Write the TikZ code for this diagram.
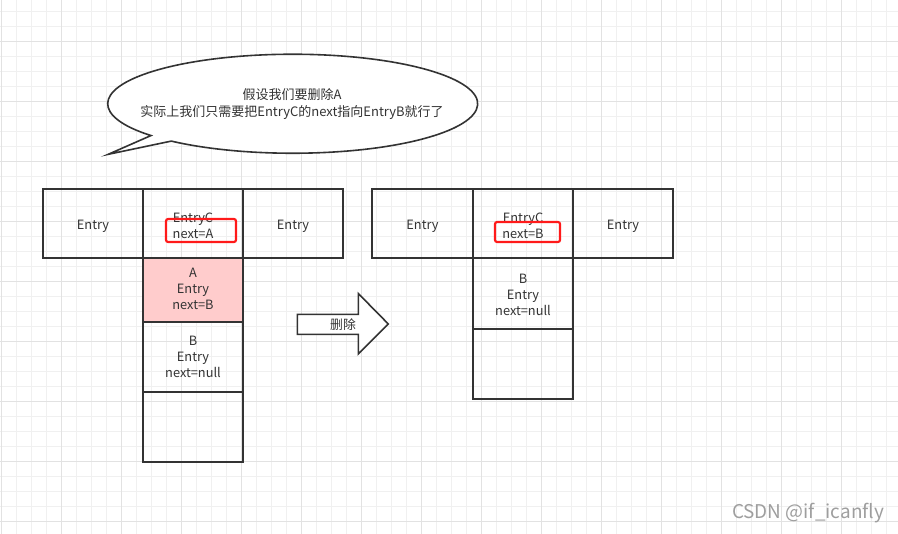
\documentclass[tikz,border=0pt]{standalone}
\usepackage{fontspec}
\setmainfont{Noto Sans CJK SC}
\definecolor{minorgrid}{HTML}{F0F0F0}
\definecolor{majorgrid}{HTML}{E2E2E2}
\definecolor{ink}{HTML}{333333}
\definecolor{pinkfill}{HTML}{FFCCCC}
\definecolor{hlred}{HTML}{FF1A1A}
\definecolor{wmgray}{HTML}{9E9E9E}
\tikzset{
  cell/.style={draw=ink, line width=1.5pt, rectangle, inner sep=0pt, minimum width=75pt},
  tallcell/.style={cell, minimum height=52.5pt},
  hl/.style={draw=hlred, line width=1.6pt, rounded corners=1.5pt, rectangle, inner sep=0pt},
  lbl/.style={text=ink, font=\fontsize{9.6}{12}\selectfont, align=center, inner sep=0pt},
}
\begin{document}
\begin{tikzpicture}[x=0.75pt,y=-0.75pt]
\useasboundingbox (0,0) rectangle (898,534);
\fill[white] (0,0) rectangle (898,534);
% grid
\foreach \i in {0,...,59} {
  \draw[minorgrid, line width=0.75pt] ({1+15*\i},0) -- ({1+15*\i},534);
}
\foreach \j in {0,...,36} {
  \draw[minorgrid, line width=0.75pt] (0,{11.7+15*\j}) -- (898,{11.7+15*\j});
}
\foreach \i in {0,...,14} {
  \draw[majorgrid, line width=0.75pt] ({1+60*\i},0) -- ({1+60*\i},534);
}
\foreach \j in {0,...,8} {
  \draw[majorgrid, line width=0.75pt] (0,{41.7+60*\j}) -- (898,{41.7+60*\j});
}
% callout
\draw[ink, line width=1.2pt, fill=white] (108.3,154.3) -- (171.3,141.1)
  arc[start angle=131, end angle=-220, x radius=185, y radius=49.5] -- cycle;
\node[lbl, font=\fontsize{9.75}{12.75}\selectfont] (say) at (292,104.5) {假设我们要删除A\\实际上我们只需要把EntryC的next指向EntryB就行了};
% left table
\node[cell, minimum height=51.75pt] (l1) at (93,223.5) {};
\node[cell, minimum height=51.75pt] (l2) at (193,223.5) {};
\node[cell, minimum height=51.75pt] (l3) at (293,223.5) {};
\node[cell, minimum height=48pt, fill=pinkfill] (la) at (193,290) {};
\node[tallcell] (lb) at (193,357) {};
\node[tallcell] (le) at (193,427) {};
\node[lbl] (l1t) at ([yshift=-2.25pt]l1.center) {Entry};
\node[lbl] (l2t) at ([yshift=-1.5pt]l2.center) {EntryC\\next=A};
\node[lbl] (l3t) at ([yshift=-2.25pt]l3.center) {Entry};
\node[lbl] (lat) at ([yshift=0.75pt]la.center) {A\\Entry\\next=B};
\node[lbl] (lbt) at ([yshift=0pt]lb.center) {B\\Entry\\next=null};
\node[hl, minimum width=52.5pt, minimum height=17.25pt] (lhl) at (201,230.5) {};
% arrow
\draw[ink, line width=1.2pt, fill=white] (297.3,314.3) -- (358.3,314.3) -- (358.3,293.5)
  -- (388.3,324) -- (358.3,354) -- (358.3,334.3) -- (297.3,334.3) -- cycle;
\node[lbl] (del) at (343,325) {删除};
% right table
\node[cell, minimum height=51.75pt, minimum width=75.75pt] (r1) at (422.5,223.5) {};
\node[cell, minimum height=51.75pt] (r2) at (523,223.5) {};
\node[cell, minimum height=51.75pt] (r3) at (623,223.5) {};
\node[tallcell] (rb) at (523,293.5) {};
\node[tallcell] (re) at (523,363.5) {};
\node[lbl] (r1t) at ([yshift=-2.25pt]r1.center) {Entry};
\node[lbl] (r2t) at ([yshift=-1.5pt]r2.center) {EntryC\\next=B};
\node[lbl] (r3t) at ([yshift=-2.25pt]r3.center) {Entry};
\node[lbl] (rbt) at ([yshift=-1.2pt]rb.center) {B\\Entry\\next=null};
\node[hl, minimum width=48.75pt, minimum height=15pt] (rhl) at (527.5,232) {};
% watermark
\node[text=wmgray, font=\fontsize{14.2}{16}\selectfont, inner sep=0pt] (wm) at (808,513.5) {CSDN @if\_icanfly};
\end{tikzpicture}
\end{document}
